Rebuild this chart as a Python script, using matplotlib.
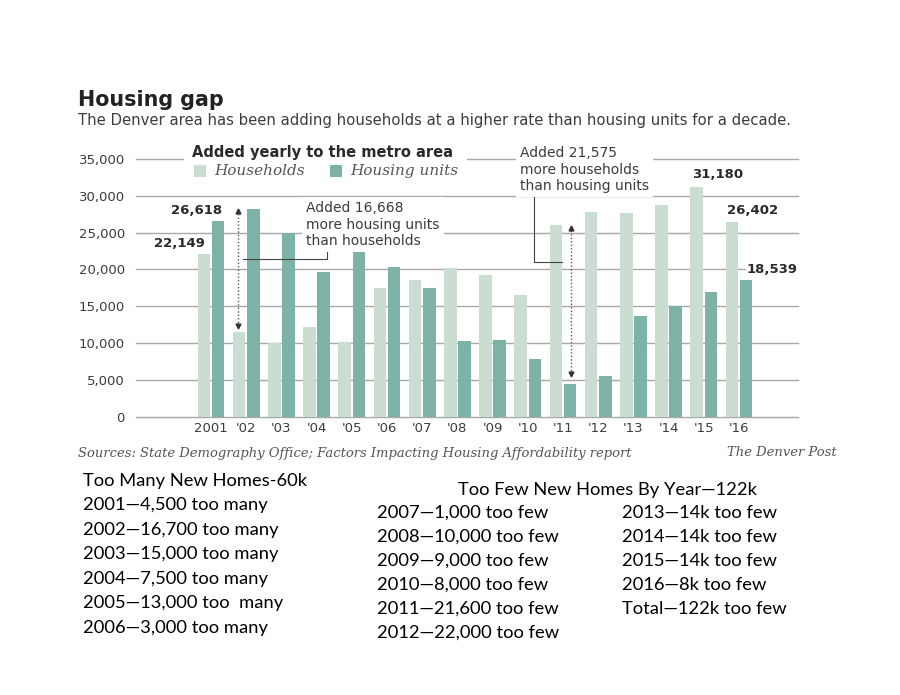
import numpy as np
import matplotlib.pyplot as plt
from matplotlib.patches import Rectangle

years = ['2001', "'02", "'03", "'04", "'05", "'06", "'07", "'08",
         "'09", "'10", "'11", "'12", "'13", "'14", "'15", "'16"]
households = [22149, 11532, 10000, 12200, 10150, 17500, 18500, 20250,
              19200, 16450, 26050, 27800, 27700, 28700, 31180, 26402]
housing_units = [26618, 28200, 24900, 19700, 22400, 20350, 17500, 10300,
                 10450, 7860, 4475, 5500, 13600, 15000, 16950, 18539]
y_ticks = list(range(0, 35001, 5000))

too_many_title = 'Too Many New Homes-60k'
too_many = ['2001—4,500 too many', '2002—16,700 too many', '2003—15,000 too many',
            '2004—7,500 too many', '2005—13,000 too  many', '2006—3,000 too many']
too_few_title = 'Too Few New Homes By Year—122k'
too_few_a = ['2007—1,000 too few', '2008—10,000 too few', '2009—9,000 too few',
             '2010—8,000 too few', '2011—21,600 too few', '2012—22,000 too few']
too_few_b = ['2013—14k too few', '2014—14k too few', '2015—14k too few',
             '2016—8k too few', 'Total—122k too few']

LIGHT = '#c9ddd0'
DARK = '#7db2a6'
GRID = '#a8a8a8'
TXT = '#3c3c3c'

W, H = 900, 695


def fx(x):
    return x / W


def fy(y):
    return 1 - y / H


fig = plt.figure(figsize=(9, 6.95), dpi=100)
ax = fig.add_axes([fx(136), fy(416.5), (798 - 136) / W, (416.5 - 159) / H])

x = np.arange(len(years))
ax.bar(x - 0.2, households, 0.36, color=LIGHT, zorder=2)
ax.bar(x + 0.2, housing_units, 0.36, color=DARK, zorder=2)
for v in y_ticks:
    ax.axhline(v, color=GRID, lw=1, zorder=1, clip_on=False)

ax.set_xlim(-(211 - 136) / 35.2, (798 - 211) / 35.2)
ax.set_ylim(0, 35000)
ax.set_yticks(y_ticks)
ax.set_yticklabels([f'{v:,}' for v in y_ticks])
ax.set_xticks(x)
ax.set_xticklabels(years)
ax.tick_params(length=0, labelsize=9.5, labelcolor=TXT)
ax.tick_params(axis='y', pad=8)
ax.tick_params(axis='x', pad=4)
for s in ax.spines.values():
    s.set_visible(False)

# value labels
lab = dict(fontsize=9.5, fontweight='bold', color='#2a2a2a',
           textcoords='offset pixels', va='bottom', zorder=4)
ax.annotate('26,618', (0.38, housing_units[0]), (-2, 4), ha='right', **lab)
ax.annotate('22,149', (-0.02, households[0]), (-5, 4), ha='right', **lab)
ax.annotate('31,180', (14 - 0.38, households[14]), (2, 6), ha='left', **lab)
ax.annotate('26,402', (15 - 0.38, households[15]), (1, 5), ha='left', **lab)
ax.annotate('18,539', (15.2, housing_units[15]), (1, 4), ha='left',
            bbox=dict(fc='white', ec='none', pad=1), **lab)


# gap arrows
def gap_arrow(xpos, top, bottom):
    ax.plot([xpos, xpos], [bottom, top], ls=(0, (1, 1.5)), color='#555', lw=1, zorder=3)
    ax.plot(xpos, top, marker='^', ms=3.5, color='#333', zorder=3)
    ax.plot(xpos, bottom, marker='v', ms=3.5, color='#333', zorder=3)


gap_arrow(0.77, housing_units[1] - 300, households[1] + 800)
gap_arrow(10.23, households[10] - 450, housing_units[10] + 1350)
ax.plot([0.91, 3.30, 3.30], [21400, 21400, 22600], color='#444', lw=0.8, zorder=3)
ax.plot([9.18, 9.18, 9.97], [30100, 21000, 21000], color='#444', lw=0.8, zorder=3)

ann = dict(fontsize=10, color=TXT, ha='left', va='center', linespacing=1.2,
           bbox=dict(fc='white', ec='none', pad=3), zorder=5)
fig.text(fx(306), fy(224.5), 'Added 16,668\nmore housing units\nthan households', **ann)
fig.text(fx(520), fy(169.5), 'Added 21,575\nmore households\nthan housing units', **ann)

# legend block
fig.patches.append(Rectangle((fx(184), fy(186)), (467 - 184) / W, 44 / H,
                             transform=fig.transFigure, fc='white', ec='none', zorder=2))
fig.text(fx(192), fy(152), 'Added yearly to the metro area', fontsize=10.5,
         fontweight='bold', color='#2a2a2a', va='center', zorder=3)
fig.patches.append(Rectangle((fx(194), fy(177)), 12 / W, 12 / H,
                             transform=fig.transFigure, fc=LIGHT, ec='none', zorder=3))
fig.patches.append(Rectangle((fx(330), fy(177)), 12 / W, 12 / H,
                             transform=fig.transFigure, fc=DARK, ec='none', zorder=3))
leg = dict(fontsize=11, family='DejaVu Serif', style='italic', color='#555',
           va='center', zorder=3)
fig.text(fx(214), fy(171), 'Households', **leg)
fig.text(fx(350), fy(171), 'Housing units', **leg)

# header and footer
fig.text(fx(78), fy(100), 'Housing gap', fontsize=14.9, fontweight='bold',
         color='#222', va='center')
fig.text(fx(78), fy(121), 'The Denver area has been adding households at a higher rate '
         'than housing units for a decade.', fontsize=10.7, color=TXT, va='center')
src = dict(fontsize=9.45, family='DejaVu Serif', style='italic', color='#555', va='center')
fig.text(fx(78), fy(453), 'Sources: State Demography Office; Factors Impacting Housing '
         'Affordability report', ha='left', **src)
fig.text(fx(837), fy(453), 'The Denver Post', ha='right', **src)

# notes below the chart
note = dict(fontsize=13.2, family='Lato', color='black', va='center')
fig.text(fx(83), fy(481), too_many_title, **note)
for i, t in enumerate(too_many):
    fig.text(fx(83), fy(505 + 24.6 * i), t, **note)
fig.text(fx(458), fy(490), too_few_title, **note)
for i, t in enumerate(too_few_a):
    fig.text(fx(377), fy(513 + 24 * i), t, **note)
for i, t in enumerate(too_few_b):
    fig.text(fx(622), fy(513 + 24 * i), t, **note)

fig.savefig('out.png', dpi=100)
